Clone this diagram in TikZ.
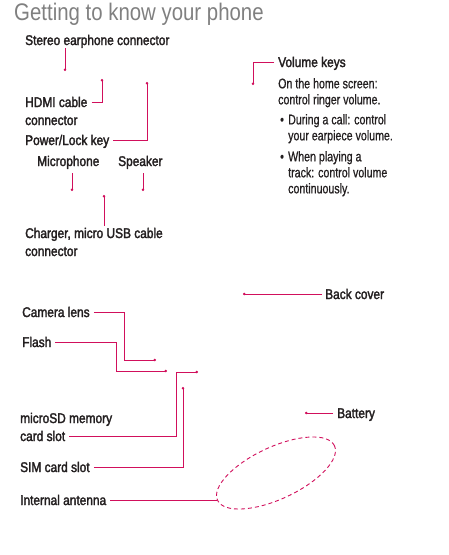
\documentclass[tikz,border=0pt]{standalone}
\usepackage{fontspec}
\setmainfont{Liberation Sans}
\newfontfamily\titlefont{Liberation Sans}[FakeStretch=0.85]
\newfontfamily\lblfont{Liberation Sans}[FakeStretch=0.85, FakeBold=2.2]
\newfontfamily\descfont{Liberation Sans}[FakeStretch=0.76, FakeBold=0.8]
\usepackage{xcolor}
\usepackage{tikz}
\usetikzlibrary{shapes.geometric, arrows.meta, positioning}
\definecolor{leaddraw}{HTML}{D10F5C}
\definecolor{lbltext}{HTML}{231F20}
\definecolor{titletext}{HTML}{808080}
\tikzset{
  lbl/.style={anchor=west, inner sep=0pt, font=\lblfont\fontsize{14}{18}\selectfont, text=lbltext, text height=12pt, text depth=2pt},
  desc/.style={anchor=north west, inner sep=0pt, align=left, font=\descfont\fontsize{14}{16}\selectfont, text=lbltext},
  lead/.style={draw=leaddraw, line width=0.9pt, -{Circle[length=2.4pt]}},
  leadh/.style={lead, shorten <=4pt},
  antenna/.style={ellipse, draw=leaddraw, line width=0.9pt, dash pattern=on 4pt off 3pt, inner sep=0pt, minimum width=129pt, minimum height=52pt, rotate=25},
}

\begin{document}
\begin{tikzpicture}[x=1pt, y=-1pt]
  \useasboundingbox (0,0) rectangle (448,555);

  \node[anchor=base west, inner sep=0pt, font=\titlefont\fontsize{24}{28}\selectfont, text=titletext] (title) at (14,20) {Getting to know your phone};

  % top of the phone
  \node[lbl] (stereo) at (25,40) {Stereo earphone connector};
  \node[lbl] (hdmi) at (25,102) {HDMI cable};
  \node[lbl] (hdmi2) at (25,120) {connector};
  \node[lbl] (power) at (25,140) {Power/Lock key};
  \node[lbl] (mic) at (37,161) {Microphone};
  \node[lbl] (spk) at (118,161) {Speaker};
  \node[lbl] (chg) at (25,233) {Charger, micro USB cable};
  \node[lbl] (chg2) at (25,251) {connector};

  \node[lbl] (vol) at (278,62) {Volume keys};
  \node[desc] (vhome) at (278,78) {On the home screen:\\control ringer volume.};
  \node[desc] (vcall) at (280,114) {\makebox[8pt][l]{\textbullet}During a call: control\\\hspace*{8pt}your earpiece volume.};
  \node[desc] (vplay) at (280,151) {\makebox[8pt][l]{\textbullet}When playing a\\\hspace*{8pt}track: control volume\\\hspace*{8pt}continuously.};

  \coordinate (pStereo) at (65,71);
  \coordinate (pHdmi) at (102,79);
  \coordinate (pPower) at (147,82);
  \coordinate (pMic) at (72,191);
  \coordinate (pSpk) at (143,191);
  \coordinate (pChg) at (104,195);
  \coordinate (pVol) at (253,85);

  \draw[lead, shorten <=1pt] (stereo.south -| pStereo) -- (pStereo);
  \draw[leadh] (hdmi.east) -| (pHdmi);
  \draw[leadh] (power.east) -| (pPower);
  \draw[lead, shorten <=5pt] (mic.south -| pMic) -- (pMic);
  \draw[lead, shorten <=5pt] (spk.south -| pSpk) -- (pSpk);
  \draw[lead] (chg.north -| pChg) -- (pChg);
  \draw[leadh] (vol.west) -| (pVol);

  % back of the phone
  \node[lbl] (back) at (325,294) {Back cover};
  \node[lbl] (cam) at (22,312) {Camera lens};
  \node[lbl] (flash) at (22,342) {Flash};
  \node[lbl] (sd) at (20,418) {microSD memory};
  \node[lbl] (sd2) at (20,436) {card slot};
  \node[lbl] (sim) at (20,467) {SIM card slot};
  \node[lbl] (bat) at (337,413) {Battery};
  \node[lbl] (ant) at (20,500) {Internal antenna};
  \node[antenna] (antring) at (276,473) {};

  \coordinate (pBack) at (243,294);
  \coordinate (pCam) at (156,360);
  \coordinate (kCam) at (124,0);
  \coordinate (pFlash) at (167,371);
  \coordinate (kFlash) at (116,0);
  \coordinate (pSd) at (198,372);
  \coordinate (kSd) at (176,0);
  \coordinate (pSim) at (183,387);
  \coordinate (pBat) at (305,413);

  \draw[lead, shorten <=3pt] (back.west) -- (pBack);
  \draw[leadh] (cam.east) -| (kCam |- pCam) -- (pCam);
  \draw[leadh] (flash.east) -| (kFlash |- pFlash) -- (pFlash);
  \draw[leadh] (sd2.east) -| (kSd |- pSd) -- (pSd);
  \draw[leadh] (sim.east) -| (pSim);
  \draw[lead, shorten <=4pt] (bat.west) -- (pBat);
  \draw[draw=leaddraw, line width=0.9pt, shorten <=4pt] (ant.east) -- (ant.east -| antring.west);
\end{tikzpicture}
\end{document}
